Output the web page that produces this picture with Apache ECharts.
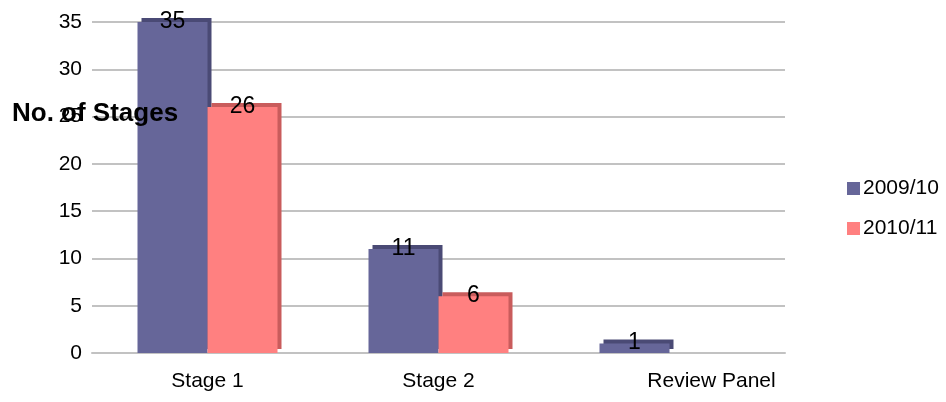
<!DOCTYPE html>
<html>
<head>
<meta charset="utf-8">
<script src="https://cdn.jsdelivr.net/npm/echarts@6/dist/echarts.min.js"></script>
<style>
  html, body { margin: 0; padding: 0; background: #fff; }
  #chart { width: 946px; height: 402px; }
</style>
</head>
<body>
<div id="chart"></div>
<script>
// Number of cases reaching each stage, by year
const categories = ['Stage 1', 'Stage 2', 'Review Panel'];
const seriesNames = ['2009/10', '2010/11'];
const values2009 = [35, 11, 1];
const values2010 = [26, 6, null];
const yTicks = [0, 5, 10, 15, 20, 25, 30, 35];

const FONT = '"Liberation Sans", Arial, sans-serif';
const GRID_COLOR = '#c2c2c2';

function barSeries(name, data, face, edge) {
  return {
    name: name,
    type: 'bar',
    data: data,
    barWidth: 70,
    barGap: '0%',
    itemStyle: {
      color: face,
      // offset shadow draws the extruded top and side of each bar
      shadowColor: edge,
      shadowBlur: 0,
      shadowOffsetX: 4,
      shadowOffsetY: -4
    },
    label: {
      show: true,
      position: 'top',
      distance: -11,
      color: '#000',
      fontFamily: FONT,
      fontSize: 23
    }
  };
}

const chart = echarts.init(document.getElementById('chart'));
chart.setOption({
  animation: false,
  backgroundColor: '#fff',
  textStyle: { fontFamily: FONT },
  grid: { left: 92, right: 161, top: 22, bottom: 49 },
  title: {
    text: 'No. of Stages',
    left: 7,
    top: 96,
    textStyle: { fontFamily: FONT, fontSize: 26, fontWeight: 'bold', color: '#000' }
  },
  legend: {
    orient: 'vertical',
    left: 842,
    top: 173,
    itemWidth: 13,
    itemHeight: 13,
    itemGap: 19,
    icon: 'rect',
    itemStyle: { shadowColor: 'transparent', shadowOffsetX: 0, shadowOffsetY: 0 },
    textStyle: { fontFamily: FONT, fontSize: 21, color: '#000', padding: [0, 0, 0, -2] },
    data: seriesNames
  },
  xAxis: {
    type: 'category',
    data: categories,
    axisLine: { show: true, lineStyle: { color: GRID_COLOR, width: 2 } },
    axisTick: { show: false },
    axisLabel: {
      color: '#000',
      fontFamily: FONT,
      fontSize: 21,
      margin: 18,
      formatter: v => v === 'Review Panel' ? '{p|}' + v : v,
      rich: { p: { width: 84 } }
    }
  },
  yAxis: {
    type: 'value',
    min: yTicks[0],
    max: yTicks[yTicks.length - 1],
    interval: 5,
    axisLine: { show: false },
    axisTick: { show: false },
    axisLabel: { color: '#000', fontFamily: FONT, fontSize: 21, margin: 10 },
    splitLine: { lineStyle: { color: GRID_COLOR, width: 2 } }
  },
  series: [
    barSeries(seriesNames[0], values2009, '#666699', '#4a4a75'),
    barSeries(seriesNames[1], values2010, '#ff8080', '#c95c5c')
  ]
});
</script>
</body>
</html>
